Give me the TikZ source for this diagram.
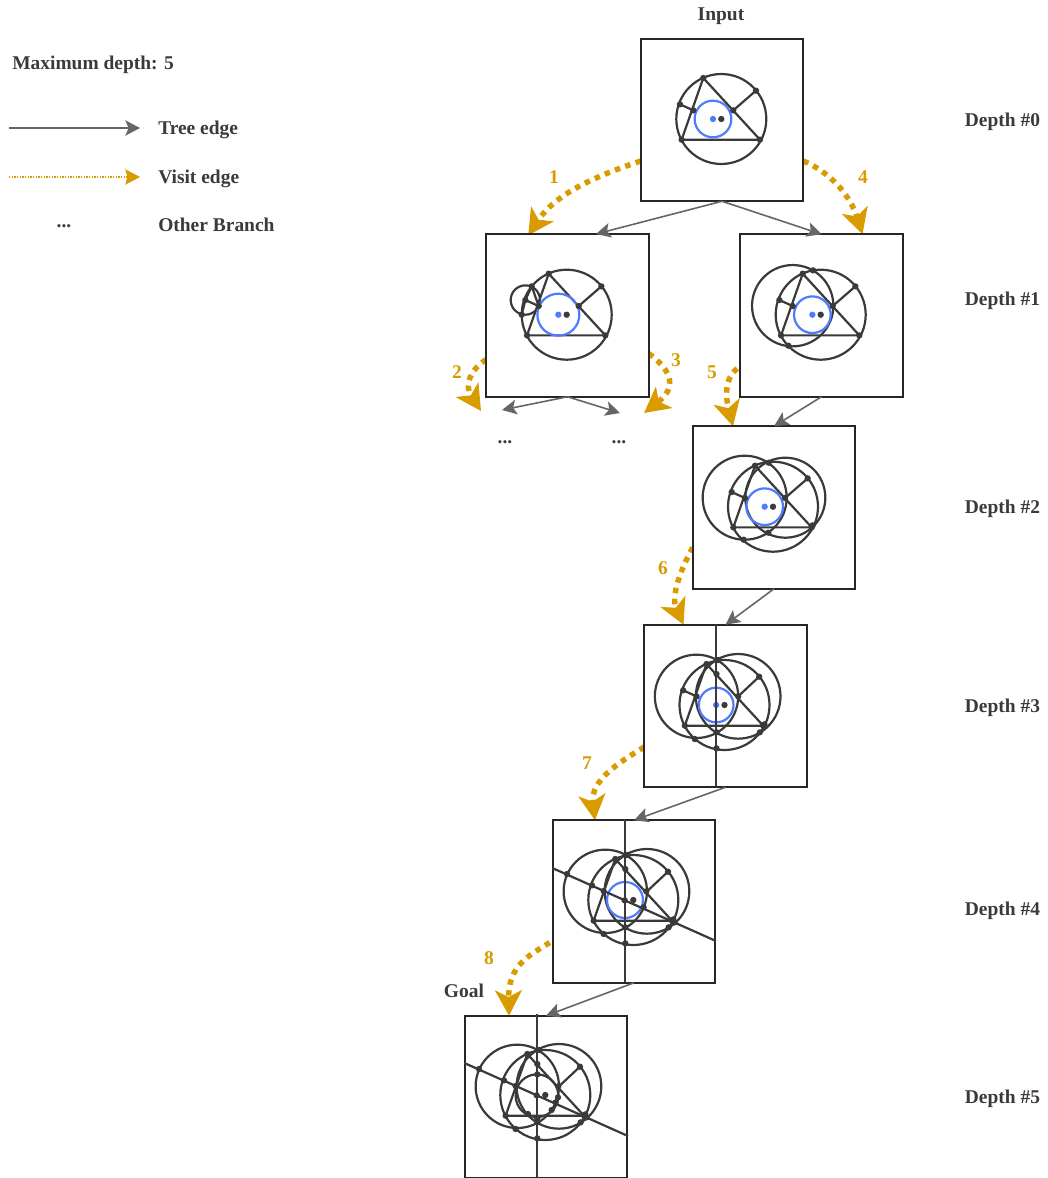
\documentclass[tikz,border=0pt]{standalone}
\usepackage{fontspec}
\setmainfont{Liberation Serif}
\usetikzlibrary{arrows.meta,calc}
\definecolor{ink}{HTML}{3A3A3A}
\definecolor{gold}{HTML}{D99C00}
\definecolor{treegray}{HTML}{666666}
\definecolor{blueink}{HTML}{4F7BFF}
\newcommand{\dt}[2]{\fill[ink] (#1,#2) circle (9.5);}
\newcommand{\ptsbase}{\dt{-54}{-123}\dt{-119}{62}\dt{116}{62}\dt{-124}{-44}\dt{104}{-85}\dt{0}{0}}
\tikzset{
  px/.style={x=0.25pt,y=-0.25pt,line width=1.65pt,draw=ink},
  stbox/.style={draw=black!85,line width=1.4pt,fill=white,minimum size=121.9pt,inner sep=0pt,outer sep=0pt},
  lab/.style={font=\fontsize{14.6}{16}\selectfont\bfseries,text=ink,inner sep=0pt},
  num/.style={font=\fontsize{14.6}{16}\selectfont\bfseries,text=gold,inner sep=0pt},
  treeedge/.style={draw=treegray,line width=1.2pt,-{Stealth[length=11pt,width=11pt,inset=2.5pt]}},
  visitedge/.style={draw=gold,line width=4.1pt,dash pattern=on 4.1pt off 4.1pt,-{Stealth[length=19pt,width=20pt,inset=5pt]}},
  legvisit/.style={draw=gold,line width=1pt,dash pattern=on 1pt off 1pt,-{Stealth[length=11pt,width=11.5pt,inset=1.5pt]}},
  legtree/.style={draw=treegray,line width=1.2pt,-{Stealth[length=11pt,width=11.5pt,inset=2.5pt]}},
}
\begin{document}
\begin{tikzpicture}[x=0.75pt,y=-0.75pt]
\useasboundingbox (0,0) rectangle (1047,1178);

% boxes
\node[stbox] (b0) at (722,120) {};
\node[stbox] (b1) at (567.5,315.5) {};
\node[stbox] (b2) at (821.5,315.5) {};
\node[stbox] (b3) at (774,507.5) {};
\node[stbox] (b4) at (725.5,706) {};
\node[stbox] (b5) at (634,901.5) {};
\node[stbox] (b6) at (546,1097) {};

% visit edges
\draw[visitedge] ($(b0.west)+(0,41)$) .. controls (590,178) and (555,195) .. ($(b1.north west)+(42,1)$);
\draw[visitedge] ($(b0.east)+(0,41)$) .. controls (830,172) and (850,195) .. ($(b2.north)+(41,0)$);
\draw[visitedge] ($(b1.west)+(0,44)$) .. controls (470,370) and (464,385) .. (481,411);
\draw[visitedge] ($(b1.east)+(0,38)$) .. controls (668,368) and (680,385) .. (644,413);
\draw[visitedge] ($(b2.west)+(-3,53)$) .. controls (725,378) and (725,395) .. ($(b3.north)+(-41,0)$);
\draw[visitedge] ($(b3.west)+(0,40)$) .. controls (683,565) and (670,595) .. ($(b4.north)+(-42,0)$);
\draw[visitedge] ($(b4.west)+(0,41)$) .. controls (620,762) and (590,780) .. ($(b5.north)+(-39,0)$);
\draw[visitedge] ($(b5.west)+(-3,41)$) .. controls (530,955) and (508,965) .. ($(b6.north)+(-37,0)$);

% re-cover starts
\node[stbox] at (b0) {};
\node[stbox] at (b1) {};
\node[stbox] at (b2) {};
\node[stbox] at (b3) {};
\node[stbox] at (b4) {};
\node[stbox] at (b5) {};

% tree edges
\coordinate (e1) at (596,234);
\coordinate (o1) at (502,410);
\coordinate (o2) at (620,413);
\draw[treeedge] (b0.south) -- (e1);
\draw[treeedge] (b0.south) -- (b2.north);
\draw[treeedge] (b1.south) -- (o1);
\draw[treeedge] (b1.south) -- (o2);
\draw[treeedge] (b2.south) -- (b3.north);
\draw[treeedge] (b3.south) -- (b4.north);
\draw[treeedge] (b4.south) -- (b5.north);
\draw[treeedge] (b5.south) -- (b6.north);

% figure 0
\begin{scope}[shift={(721.3,119)},px]
\draw (0,0) circle (135);
\draw (-54,-123) -- (-119,62) -- (116,62) -- cycle;
\draw (-124,-44) -- (-84,-26);
\draw (36,-26) -- (104,-85);
\draw[draw=blueink] (-25,0) circle (55);
\ptsbase \dt{-84}{-26}\dt{36}{-26}
\fill[blueink] (-25,0) circle (9.5);
\end{scope}

% figure 1
\begin{scope}[shift={(566.7,314.7)},px]
\draw (0,0) circle (135);
\draw (-124,-44) circle (44);
\draw (-54,-123) -- (-119,62) -- (116,62) -- cycle;
\draw (-124,-44) -- (-84,-26);
\draw (36,-26) -- (104,-85);
\draw (-105,-85) -- (-124,-44) -- (-135,0);
\draw (-105,-85) -- (-84,-26);
\draw[draw=blueink] (-25,0) circle (63);
\ptsbase \dt{-84}{-26}\dt{36}{-26}\dt{-105}{-85}\dt{-135}{0}
\fill[blueink] (-25,0) circle (9.5);
\end{scope}

% figure 2
\begin{scope}[shift={(820.7,314.7)},px]
\draw (0,0) circle (135);
\draw (-84,-27) circle (122);
\draw (-54,-123) -- (-119,62) -- (116,62) -- cycle;
\draw (-124,-44) -- (-84,-26);
\draw (36,-26) -- (104,-85);
\draw[draw=blueink] (-25,0) circle (55);
\ptsbase \dt{-84}{-26}\dt{36}{-26}\dt{-23}{-133}\dt{-97}{93}
\fill[blueink] (-25,0) circle (9.5);
\end{scope}

% figure 3
\begin{scope}[shift={(773,506.7)},px]
\draw (0,0) circle (135);
\draw (-85,-27) circle (126);
\draw (37,-27) circle (120);
\draw (-54,-123) -- (-119,62) -- (116,62) -- cycle;
\draw (-124,-44) -- (-84,-26);
\draw (36,-26) -- (104,-85);
\draw[draw=blueink] (-25,0) circle (55);
\ptsbase \dt{-84}{-26}\dt{36}{-26}\dt{-13}{-132}\dt{-14}{78}\dt{-88}{99}\dt{119}{56}
\fill[blueink] (-25,0) circle (9.5);
\end{scope}

% figure 4
\begin{scope}[shift={(724.5,705)},px]
\draw (0,0) circle (135);
\draw (-84,-26) circle (125);
\draw (41,-26) circle (127);
\draw (-54,-123) -- (-119,62) -- (116,62) -- cycle;
\draw (-124,-44) -- (-84,-26);
\draw (41,-26) -- (104,-85);
\draw[draw=blueink] (-25,0) circle (52);
\fill[blueink] (-25,0) circle (9.5);
\draw (-25,-243) -- (-25,243);
\ptsbase \dt{-84}{-26}\dt{41}{-26}\dt{-19}{-135}\dt{-24}{-93}\dt{-24}{82}\dt{-24}{130}\dt{106}{82}\dt{-89}{102}\dt{120}{58}
\end{scope}

% figure 5
\begin{scope}[shift={(633.3,900)},px]
\draw (0,0) circle (135);
\draw (-84,-26) circle (125);
\draw (41,-26) circle (127);
\draw (-54,-123) -- (-119,62) -- (116,62) -- cycle;
\draw (41,-26) -- (104,-85);
\draw[draw=blueink] (-25,0) circle (54);
\draw (-25,-243) -- (-25,247);
\draw (-243,-96) -- (248,123);
\ptsbase \dt{-199}{-78}\dt{-89}{-27}\dt{-26}{1}\dt{39}{-26}\dt{31}{22}\dt{124}{67}\dt{-19}{-135}\dt{-24}{-93}\dt{-24}{82}\dt{-24}{130}\dt{106}{82}\dt{-89}{102}\dt{120}{58}
\end{scope}

% figure 6
\begin{scope}[shift={(545.3,1095)},px]
\draw (0,0) circle (135);
\draw (-84,-26) circle (125);
\draw (41,-26) circle (127);
\draw (-54,-123) -- (-119,62) -- (116,62) -- cycle;
\draw (41,-26) -- (104,-85);
\draw (-25,2) circle (64);
\draw (-25,-243) -- (-25,247);
\draw (-243,-96) -- (248,123);
\ptsbase \dt{-199}{-78}\dt{-89}{-27}\dt{-26}{1}\dt{39}{-26}\dt{31}{22}\dt{124}{67}\dt{-19}{-135}\dt{-24}{-93}\dt{-24}{82}\dt{-24}{130}\dt{106}{82}\dt{-89}{102}\dt{120}{58}\dt{-24}{-62}\dt{38}{7}\dt{19}{45}\dt{-52}{57}\dt{-24}{70}
\end{scope}

% labels
\node[lab] (input) at (721,16) {Input};
\node[lab] (goal) at (464,991) {Goal};
\node[lab] (d0) at (1002.5,122) {Depth \#0};
\node[lab] (d1) at (1002.5,301) {Depth \#1};
\node[lab] (d2) at (1002.5,509) {Depth \#2};
\node[lab] (d3) at (1002.5,708) {Depth \#3};
\node[lab] (d4) at (1002.5,911) {Depth \#4};
\node[lab] (d5) at (1002.5,1099) {Depth \#5};
\node[num] (n1) at (554,177) {1};
\node[num] (n2) at (457,372) {2};
\node[num] (n3) at (676,360) {3};
\node[num] (n4) at (863,177) {4};
\node[num] (n5) at (712,372) {5};
\node[num] (n6) at (663,568) {6};
\node[num] (n7) at (587,763) {7};
\node[num] (n8) at (489,958) {8};
\node[lab] (m1) at (505,442) {...};
\node[lab] (m2) at (619,442) {...};

% legend
\node[lab,anchor=west] (maxd) at (12,65) {Maximum depth: 5};
\coordinate (la) at (9,128);
\coordinate (lb) at (140,128);
\coordinate (lc) at (9,177);
\coordinate (ld) at (140,177);
\draw[legtree] (la) -- (lb);
\draw[legvisit] (lc) -- (ld);
\node[lab,anchor=west] (lt) at (158,130) {Tree edge};
\node[lab,anchor=west] (lv) at (158,179) {Visit edge};
\node[lab,anchor=west] (lo) at (158,225) {Other Branch};
\node[lab] (m3) at (64,226) {...};
\end{tikzpicture}
\end{document}
